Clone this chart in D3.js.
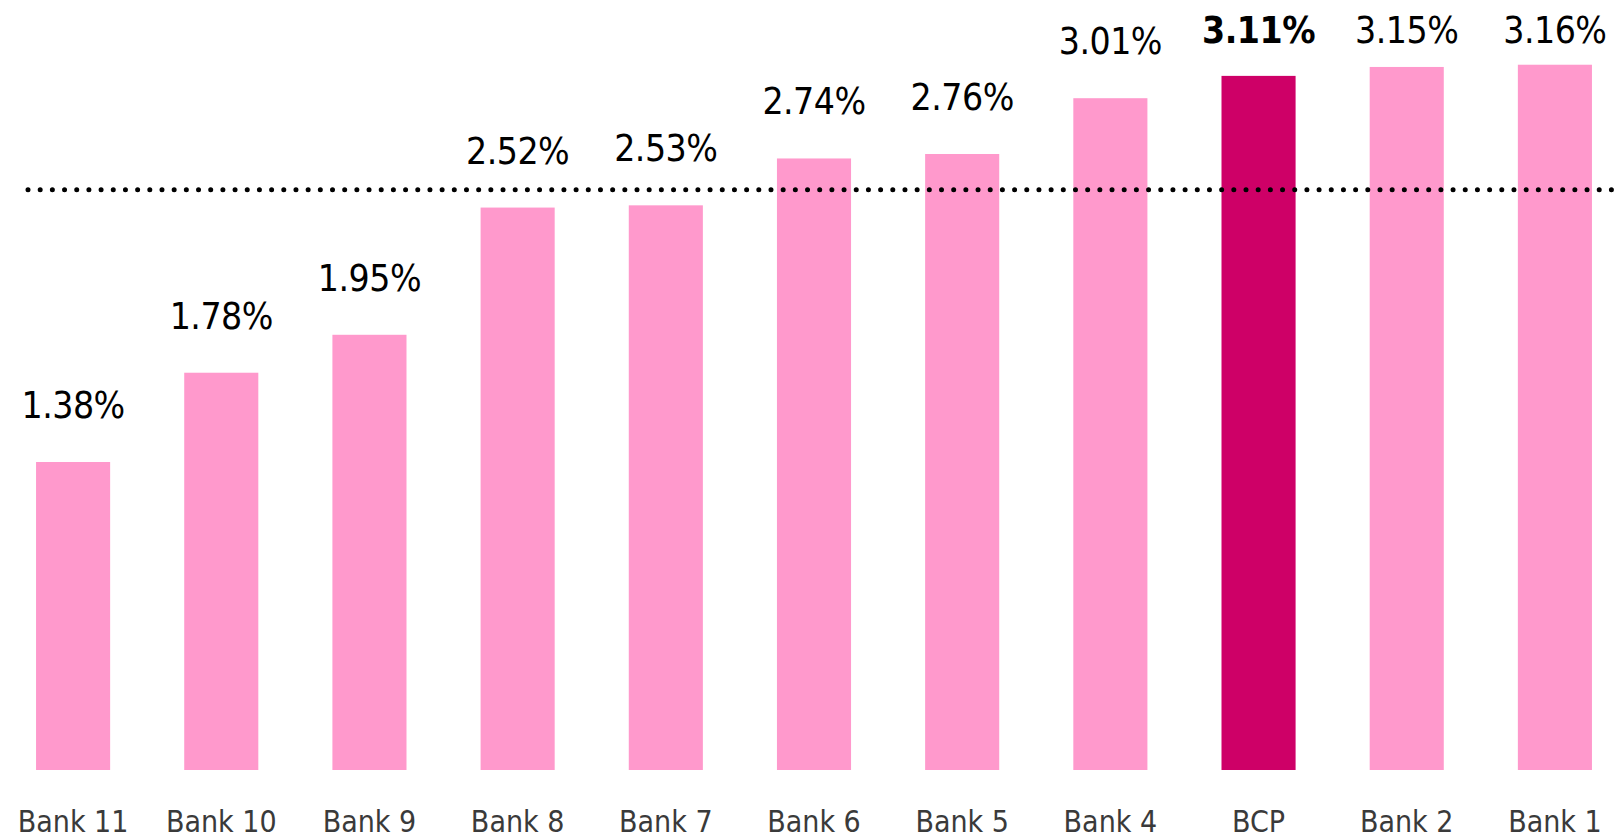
<!DOCTYPE html>
<html>
<head>
<meta charset="utf-8">
<script src="https://cdn.jsdelivr.net/npm/d3@7"></script>
<style>
  html, body { margin: 0; padding: 0; background: white; }
  svg { display: block; }
</style>
</head>
<body>
<div id="chart"></div>
<script>
"use strict"

// bank names, left to right
const banks = ["Bank 11", "Bank 10", "Bank 9", "Bank 8", "Bank 7", "Bank 6",
  "Bank 5", "Bank 4", "BCP", "Bank 2", "Bank 1"];
// ratio per bank, in percent
const ratios = [1.38, 1.78, 1.95, 2.52, 2.53, 2.74, 2.76, 3.01, 3.11, 3.15, 3.16];
// the highlighted bank
const highlight = "BCP";
// dotted reference line (average)
const average = [2.60];

const width = 1614, height = 840;

let svg = d3.select("#chart").append("svg")
  .attr("width", width)
  .attr("height", height);

let x = d3.scaleBand()
  .domain(banks)
  .range([-1, 1629])
  .paddingInner(0.5)
  .paddingOuter(0.25);

let y = d3.scaleLinear()
  .domain([0, 3.45])
  .range([770, 0]);

let data = banks.map((b, i) => ({ bank: b, value: ratios[i] }));

// bars
svg.append("g").selectAll("rect")
  .data(data)
  .join("rect")
  .attr("x", d => x(d.bank))
  .attr("y", d => y(d.value))
  .attr("width", x.bandwidth())
  .attr("height", d => y(0) - y(d.value))
  .style("fill", d => d.bank === highlight ? "#CE0067" : "#FF99CC");

// dotted average line
svg.append("g").selectAll("line")
  .data(average)
  .join("line")
  .attr("x1", 28)
  .attr("x2", width)
  .attr("y1", d => y(d))
  .attr("y2", d => y(d))
  .style("stroke", "#000")
  .style("stroke-width", 5)
  .style("stroke-linecap", "round")
  .style("stroke-dasharray", "0.01,12.17");

// value labels
svg.append("g").selectAll("text")
  .data(data)
  .join("text")
  .attr("x", d => x(d.bank) + x.bandwidth() / 2)
  .attr("y", d => Math.max(y(d.value) - 44, 43))
  .attr("text-anchor", "middle")
  .style("font-family", "'DejaVu Sans Condensed', 'DejaVu Sans', sans-serif")
  .style("font-size", "37px")
  .style("letter-spacing", "-0.5px")
  .style("font-weight", d => d.bank === highlight ? "bold" : "normal")
  .style("fill", "#000")
  .text(d => d.value.toFixed(2) + "%");

// category labels
svg.append("g").selectAll("text")
  .data(banks)
  .join("text")
  .attr("x", d => x(d) + x.bandwidth() / 2)
  .attr("y", 832)
  .attr("text-anchor", "middle")
  .style("font-family", "'DejaVu Sans Condensed', 'DejaVu Sans', sans-serif")
  .style("font-size", "30px")
  .style("fill", "#3a3a3a")
  .text(d => d);
</script>
</body>
</html>
